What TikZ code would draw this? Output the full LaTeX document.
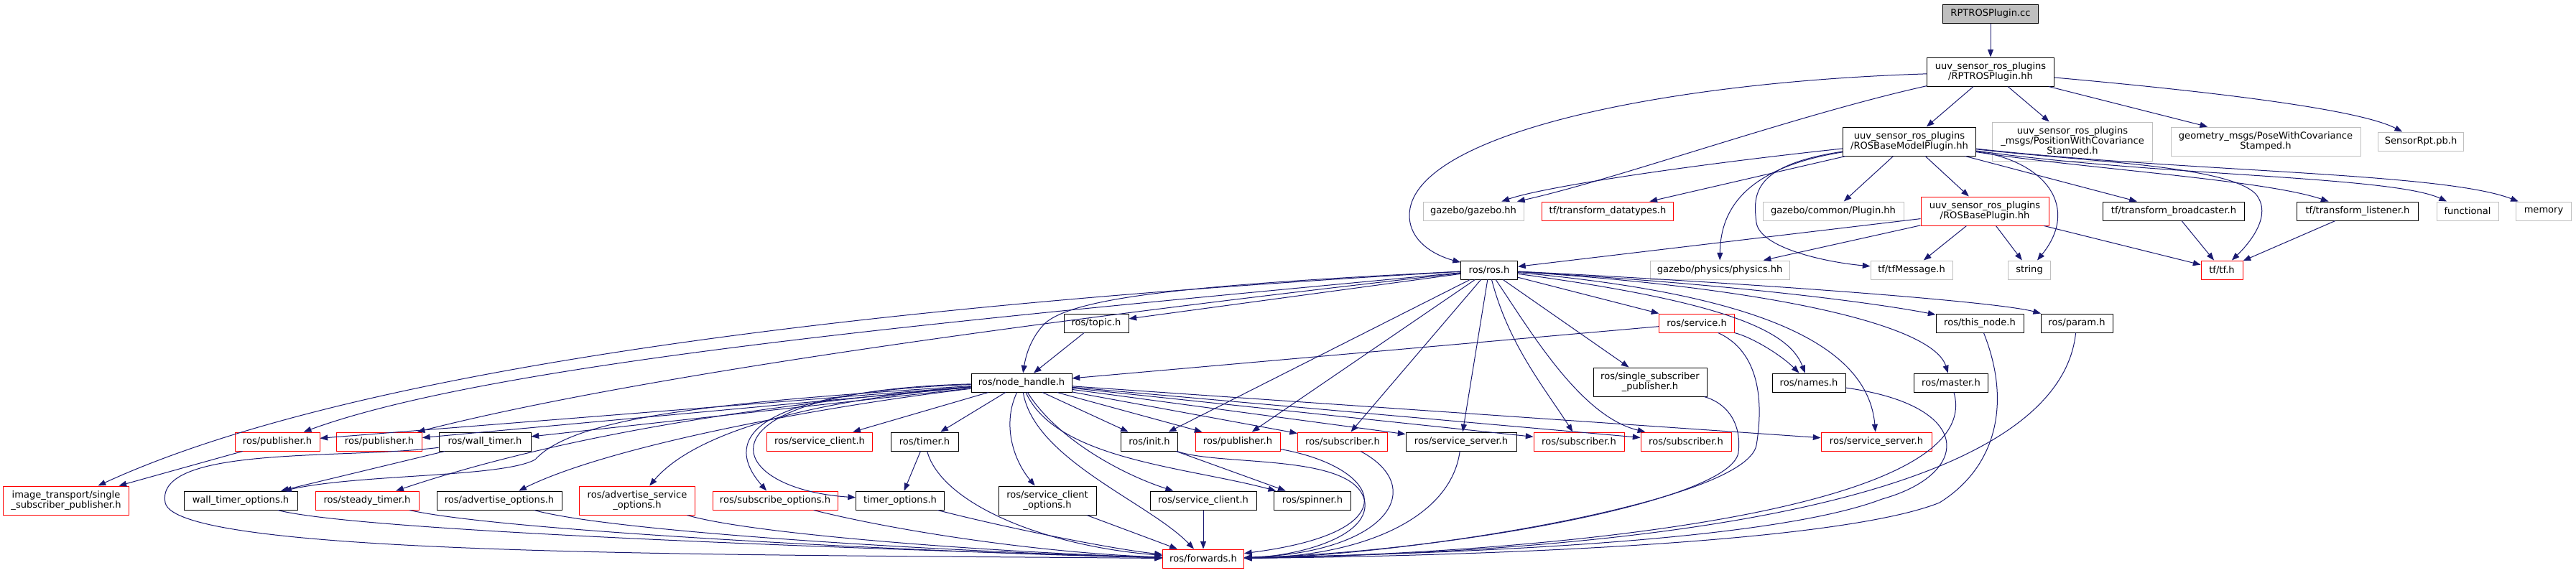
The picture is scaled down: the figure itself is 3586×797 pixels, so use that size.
\documentclass[tikz,border=0pt]{standalone}
\usepackage{fontspec}
\setmainfont{DejaVu Sans}
\usepackage{xcolor}
\usepackage{tikz}
\usetikzlibrary{arrows.meta}
\definecolor{edgenavy}{HTML}{191970}
\definecolor{truncred}{HTML}{FF0000}
\definecolor{nodocgray}{HTML}{BFBFBF}

\begin{document}
\begin{tikzpicture}[x=0.75pt, y=-0.75pt, font=\fontsize{9.8pt}{10.5pt}\selectfont]
    \tikzstyle{file} = [rectangle, draw, line width=0.75pt, inner sep=0pt, minimum height=19.5pt,
      text centered, align=center]
    \tikzstyle{doc} = [file, draw=black]
    \tikzstyle{trunc} = [file, draw=truncred]
    \tikzstyle{nodoc} = [file, draw=nodocgray]
    \tikzstyle{root} = [file, draw=black, fill=nodocgray]
    \tikzstyle{twoline} = [minimum height=30pt]
    \tikzstyle{threeline} = [minimum height=40.5pt]
    \tikzstyle{inc} = [-{Triangle[length=8pt, width=6pt]}, draw=edgenavy, line width=0.75pt]

    \useasboundingbox (0,0) rectangle (3586,797);

    \node[root, minimum width=99.75pt] (rptcc) at (2771,19) {RPTROSPlugin.cc};
    \node[doc, twoline, minimum width=132.75pt] (rpthh) at (2771,100) {uuv\_sensor\_ros\_plugins\\/RPTROSPlugin.hh};

    \node[doc, twoline, minimum width=138.75pt] (basemodel) at (2658,197) {uuv\_sensor\_ros\_plugins\\/ROSBaseModelPlugin.hh};
    \node[nodoc, threeline, minimum width=167.25pt] (poscov) at (2885,197) {uuv\_sensor\_ros\_plugins\\\_msgs/PositionWithCovariance\\Stamped.h};
    \node[nodoc, twoline, minimum width=198pt] (posestamped) at (3154,197) {geometry\_msgs/PoseWithCovariance\\Stamped.h};
    \node[nodoc, minimum width=89.25pt] (sensorrpt) at (3370,197) {SensorRpt.pb.h};

    \node[nodoc, minimum width=105pt] (gazebo) at (2051,294) {gazebo/gazebo.hh};
    \node[trunc, minimum width=137.25pt] (tfdatatypes) at (2238,294) {tf/transform\_datatypes.h};
    \node[nodoc, minimum width=147pt] (gzplugin) at (2552,294) {gazebo/common/Plugin.hh};
    \node[trunc, twoline, minimum width=133.5pt] (baseplugin) at (2763,294) {uuv\_sensor\_ros\_plugins\\/ROSBasePlugin.hh};
    \node[doc, minimum width=147.75pt] (broadcaster) at (3026,294) {tf/transform\_broadcaster.h};
    \node[doc, minimum width=126.75pt] (listener) at (3282,294) {tf/transform\_listener.h};
    \node[nodoc, minimum width=64.5pt] (functional) at (3435,294) {functional};
    \node[nodoc, minimum width=57.75pt] (memory) at (3541,294) {memory};

    \node[doc, minimum width=59.25pt] (rosh) at (2073,376) {ros/ros.h};
    \node[nodoc, minimum width=145.5pt] (physics) at (2394,376) {gazebo/physics/physics.hh};
    \node[nodoc, minimum width=85.5pt] (tfmsg) at (2661,376) {tf/tfMessage.h};
    \node[nodoc, minimum width=44.25pt] (string) at (2825,376) {string};
    \node[trunc, minimum width=43.5pt] (tfh) at (3093,376) {tf/tf.h};

    \node[doc, minimum width=67.5pt] (topic) at (1526,450) {ros/topic.h};
    \node[trunc, minimum width=78.75pt] (service) at (2362,450) {ros/service.h};
    \node[doc, minimum width=91.5pt] (thisnode) at (2756,450) {ros/this\_node.h};
    \node[doc, minimum width=75pt] (param) at (2891,450) {ros/param.h};

    \node[doc, minimum width=105pt] (nodehandle) at (1422,533) {ros/node\_handle.h};
    \node[doc, twoline, minimum width=118.5pt] (singlesub) at (2297,532) {ros/single\_subscriber\\\_publisher.h};
    \node[doc, minimum width=76.5pt] (names) at (2518,533) {ros/names.h};
    \node[doc, minimum width=77.25pt] (master) at (2716,533) {ros/master.h};

    \node[trunc, minimum width=88.5pt] (pubA) at (386,615) {ros/publisher.h};
    \node[trunc, minimum width=89.25pt] (pubB) at (528,615) {ros/publisher.h};
    \node[doc, minimum width=96pt] (walltimer) at (675,615) {ros/wall\_timer.h};
    \node[trunc, minimum width=110.25pt] (srvclientA) at (1141,615) {ros/service\_client.h};
    \node[doc, minimum width=70.5pt] (timer) at (1287,615) {ros/timer.h};
    \node[doc, minimum width=59.25pt] (init) at (1600,615) {ros/init.h};
    \node[trunc, minimum width=88.5pt] (pubC) at (1723,615) {ros/publisher.h};
    \node[trunc, minimum width=93.75pt] (subA) at (1869,615) {ros/subscriber.h};
    \node[doc, minimum width=115.5pt] (srvserverA) at (2034,615) {ros/service\_server.h};
    \node[trunc, minimum width=94.5pt] (subB) at (2198,615) {ros/subscriber.h};
    \node[trunc, minimum width=94.5pt] (subC) at (2347,615) {ros/subscriber.h};
    \node[trunc, minimum width=115.5pt] (srvserverB) at (2612,615) {ros/service\_server.h};

    \node[trunc, twoline, minimum width=131.25pt] (imgtrans) at (92,697) {image\_transport/single\\\_subscriber\_publisher.h};
    \node[doc, minimum width=118.5pt] (walltimeropts) at (335,697) {wall\_timer\_options.h};
    \node[trunc, minimum width=108pt] (steadytimer) at (511,697) {ros/steady\_timer.h};
    \node[doc, minimum width=130.5pt] (advopts) at (695,697) {ros/advertise\_options.h};
    \node[trunc, twoline, minimum width=120.75pt] (advsrvopts) at (887,697) {ros/advertise\_service\\\_options.h};
    \node[trunc, minimum width=130.5pt] (subopts) at (1079,697) {ros/subscribe\_options.h};
    \node[doc, minimum width=92.25pt] (timeropts) at (1253,697) {timer\_options.h};
    \node[doc, twoline, minimum width=102pt] (srvclientopts) at (1458,697) {ros/service\_client\\\_options.h};
    \node[doc, minimum width=111pt] (srvclientB) at (1675,697) {ros/service\_client.h};
    \node[doc, minimum width=80.25pt] (spinner) at (1827,697) {ros/spinner.h};

    \node[trunc, minimum width=84.75pt] (forwards) at (1675,778) {ros/forwards.h};

    \draw[inc] (rptcc) -- (rpthh);
    \draw[inc] (rpthh) -- (basemodel);
    \draw[inc] (rpthh) -- (poscov);
    \draw[inc] (rpthh) -- (posestamped);
    \draw[inc] (rpthh) .. controls (3050,125) and (3280,150) .. (sensorrpt);
    \draw[inc] (rpthh) .. controls (2500,160) and (2250,250) .. (gazebo);
    \draw[inc] (rpthh) .. controls (2300,115) and (1962,190) .. (1962,300) .. controls (1962,335) and (1995,355) .. (rosh);

    \draw[inc] (basemodel) .. controls (2350,230) and (2150,260) .. (gazebo);
    \draw[inc] (basemodel) -- (tfdatatypes);
    \draw[inc] (basemodel) -- (gzplugin);
    \draw[inc] (basemodel) -- (baseplugin);
    \draw[inc] (basemodel) -- (broadcaster);
    \draw[inc] (basemodel) .. controls (2900,235) and (3150,250) .. (listener);
    \draw[inc] (basemodel) .. controls (3000,245) and (3330,245) .. (functional);
    \draw[inc] (basemodel) .. controls (3050,240) and (3400,240) .. (memory);
    \draw[inc] (basemodel) .. controls (2900,225) and (3100,230) .. (3140,270) .. controls (3165,300) and (3130,340) .. (tfh);
    \draw[inc] (basemodel) .. controls (2850,225) and (2895,290) .. (string);
    \draw[inc] (basemodel) .. controls (2420,235) and (2395,300) .. (physics);
    \draw[inc] (basemodel) .. controls (2440,230) and (2440,270) .. (2445,310) .. controls (2450,345) and (2540,365) .. (tfmsg);

    \draw[inc] (baseplugin) -- (physics);
    \draw[inc] (baseplugin) -- (tfmsg);
    \draw[inc] (baseplugin) -- (string);
    \draw[inc] (baseplugin) -- (tfh);
    \draw[inc] (baseplugin) -- (rosh);
    \draw[inc] (broadcaster) -- (tfh);
    \draw[inc] (listener) -- (tfh);

    \draw[inc] (rosh) -- (topic);
    \draw[inc] (rosh) .. controls (1700,395) and (1500,410) .. (1455,450) .. controls (1435,470) and (1428,495) .. (nodehandle);
    \draw[inc] (topic) -- (nodehandle);
    \draw[inc] (rosh) -- (service);
    \draw[inc] (rosh) .. controls (1300,420) and (520,500) .. (imgtrans);
    \draw[inc] (rosh) .. controls (1400,440) and (700,500) .. (pubA);
    \draw[inc] (rosh) .. controls (1500,440) and (900,520) .. (pubB);
    \draw[inc] (rosh) -- (init);
    \draw[inc] (rosh) -- (pubC);
    \draw[inc] (rosh) -- (subA);
    \draw[inc] (rosh) -- (srvserverA);
    \draw[inc] (rosh) .. controls (2100,480) and (2150,540) .. (subB);
    \draw[inc] (rosh) .. controls (2130,460) and (2200,580) .. (subC);
    \draw[inc] (rosh) -- (singlesub);
    \draw[inc] (rosh) .. controls (2400,395) and (2600,420) .. (thisnode);
    \draw[inc] (rosh) .. controls (2450,395) and (2780,420) .. (param);
    \draw[inc] (rosh) .. controls (2450,400) and (2690,450) .. (master);
    \draw[inc] (rosh) .. controls (2450,410) and (2600,480) .. (srvserverB);
    \draw[inc] (rosh) .. controls (2400,420) and (2490,460) .. (names);

    \draw[inc] (service) -- (nodehandle);
    \draw[inc] (service) .. controls (2440,470) and (2480,495) .. (names);
    \draw[inc] (service) .. controls (2450,490) and (2455,560) .. (2445,620) .. controls (2430,700) and (1950,775) .. (forwards);

    \draw[inc] (nodehandle) -- (pubA);
    \draw[inc] (nodehandle) -- (pubB);
    \draw[inc] (nodehandle) -- (walltimer);
    \draw[inc] (nodehandle) -- (srvclientA);
    \draw[inc] (nodehandle) -- (timer);
    \draw[inc] (nodehandle) -- (init);
    \draw[inc] (nodehandle) -- (pubC);
    \draw[inc] (nodehandle) -- (subA);
    \draw[inc] (nodehandle) -- (srvserverA);
    \draw[inc] (nodehandle) -- (subB);
    \draw[inc] (nodehandle) -- (subC);
    \draw[inc] (nodehandle) -- (srvserverB);
    \draw[inc] (nodehandle) .. controls (1000,560) and (800,580) .. (745,640) .. controls (700,665) and (500,660) .. (walltimeropts);
    \draw[inc] (nodehandle) .. controls (1100,560) and (800,600) .. (steadytimer);
    \draw[inc] (nodehandle) .. controls (1150,565) and (850,620) .. (advopts);
    \draw[inc] (nodehandle) .. controls (1100,560) and (960,610) .. (advsrvopts);
    \draw[inc] (nodehandle) .. controls (1000,548) and (1020,630) .. (subopts);
    \draw[inc] (nodehandle) .. controls (960,545) and (1000,680) .. (timeropts);
    \draw[inc] (nodehandle) .. controls (1395,590) and (1410,640) .. (srvclientopts);
    \draw[inc] (nodehandle) .. controls (1470,610) and (1560,660) .. (srvclientB);
    \draw[inc] (nodehandle) .. controls (1470,640) and (1650,650) .. (spinner);
    \draw[inc] (nodehandle) .. controls (1440,640) and (1600,700) .. (forwards);

    \draw[inc] (pubA) -- (imgtrans);
    \draw[inc] (walltimer) -- (walltimeropts);
    \draw[inc] (walltimer) .. controls (480,640) and (215,620) .. (230,700) .. controls (245,775) and (1000,772) .. (forwards);
    \draw[inc] (timer) -- (timeropts);
    \draw[inc] (timer) .. controls (1310,700) and (1450,760) .. (forwards);
    \draw[inc] (init) -- (spinner);
    \draw[inc] (init) .. controls (1700,650) and (1890,630) .. (1900,700) .. controls (1905,750) and (1800,775) .. (forwards);
    \draw[inc] (pubC) .. controls (1920,650) and (1970,740) .. (forwards);
    \draw[inc] (subA) .. controls (1990,680) and (1930,770) .. (forwards);
    \draw[inc] (srvserverA) .. controls (2020,720) and (1900,775) .. (forwards);
    \draw[inc] (singlesub) .. controls (2400,560) and (2425,585) .. (2420,630) .. controls (2410,700) and (2000,770) .. (forwards);
    \draw[inc] (names) .. controls (2750,565) and (2745,660) .. (2620,695) .. controls (2450,760) and (1950,772) .. (forwards);
    \draw[inc] (master) .. controls (2770,720) and (2100,772) .. (forwards);
    \draw[inc] (thisnode) .. controls (2800,560) and (2780,650) .. (2700,700) .. controls (2550,760) and (2000,775) .. (forwards);
    \draw[inc] (param) .. controls (2870,650) and (2500,765) .. (forwards);

    \draw[inc] (walltimeropts) .. controls (500,740) and (1200,765) .. (forwards);
    \draw[inc] (steadytimer) .. controls (700,740) and (1300,770) .. (forwards);
    \draw[inc] (advopts) .. controls (850,740) and (1300,768) .. (forwards);
    \draw[inc] (advsrvopts) .. controls (1050,745) and (1400,770) .. (forwards);
    \draw[inc] (subopts) .. controls (1250,740) and (1450,770) .. (forwards);
    \draw[inc] (timeropts) .. controls (1400,735) and (1550,765) .. (forwards);
    \draw[inc] (srvclientopts) -- (forwards);
    \draw[inc] (srvclientB) -- (forwards);
\end{tikzpicture}
\end{document}
